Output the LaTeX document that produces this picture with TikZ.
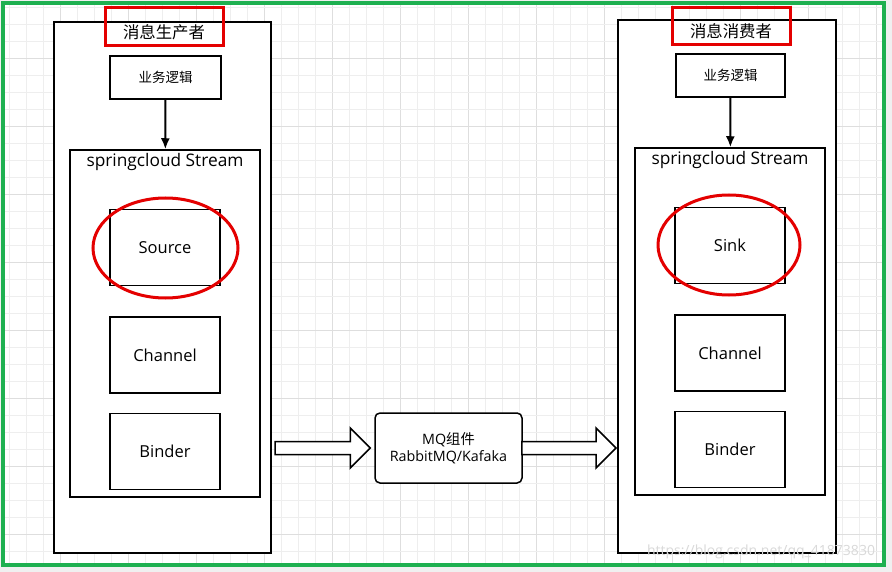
\documentclass[tikz,border=0pt]{standalone}
\usepackage{fontspec}
\setmainfont{Open Sans}
\newfontfamily\cjk{Noto Sans CJK SC}
\usetikzlibrary{positioning,calc,arrows.meta}
\definecolor{myred}{RGB}{228,0,0}
\definecolor{mygreen}{RGB}{30,176,80}
\definecolor{gridlight}{RGB}{238,238,238}
\definecolor{griddark}{RGB}{222,222,222}

\begin{document}
\begin{tikzpicture}[x=1pt, y=-1pt,
    outer/.style={draw, line width=2pt, fill=white, inner sep=0pt},
    block/.style={draw, line width=1.5pt, fill=white, minimum width=110, minimum height=76,
        inner sep=0pt, font=\fontsize{16.5}{19}\selectfont},
    ringmark/.style={draw=myred, line width=3pt},
    fatarrow/.style={draw, line width=1.5pt, fill=white, line join=miter}]
    % Page and grid
    \fill[gray!12] (0,0) rectangle (892,572);
    \fill[white] (3,3) rectangle (884,565);
    \foreach \k in {0,...,51} {
        \pgfmathtruncatemacro{\m}{mod(\k,4)}
        \ifnum\m=3 \def\gc{griddark}\else\def\gc{gridlight}\fi
        \draw[\gc, line width=0.8pt] ({9.3+17*\k},3) -- ({9.3+17*\k},565);
    }
    \foreach \k in {0,...,32} {
        \pgfmathtruncatemacro{\m}{mod(\k,4)}
        \ifnum\m=3 \def\gc{griddark}\else\def\gc{gridlight}\fi
        \draw[\gc, line width=0.8pt] (3,{7+17*\k}) -- (884,{7+17*\k});
    }
    \useasboundingbox (0,0) rectangle (892,572);

    % Producer side
    \node[outer, minimum width=217, minimum height=531] (prod) at (162.5, 287.5) {};
    \node[draw=myred, line width=3pt, minimum width=118, minimum height=38] (prodMark) at (164, 27) {};
    \node[font=\cjk\fontsize{16.4}{19}\selectfont] (prodTitle) at (164, 32) {消息生产者};
    \node[block, minimum width=111, minimum height=43, font=\cjk\fontsize{13.5}{16}\selectfont] (prodLogic) at (165.5, 77.5) {业务逻辑};
    \node[outer, line width=1.5pt, minimum width=190, minimum height=347] (prodStream) at (165, 323.5) {};
    \node[font=\fontsize{17.3}{20}\selectfont] at ($(prodStream.north) + (0, 13)$) {springcloud Stream};
    \node[block] (source) at (165, 247.5) {Source};
    \node[block, below=30pt of source] (prodChannel) {Channel};
    \node[block, below=19pt of prodChannel] (prodBinder) {Binder};
    \draw[-{Latex[length=11pt,width=9pt]}, line width=2pt] (prodLogic) -- (prodStream);
    \draw[ringmark] (165.5, 248) ellipse (72.5 and 50);

    % Consumer side
    \node[outer, minimum width=218, minimum height=533] (cons) at (727, 286.5) {};
    \node[draw=myred, line width=3pt, minimum width=118, minimum height=37] (consMark) at (731, 26.5) {};
    \node[font=\cjk\fontsize{16.4}{19}\selectfont] (consTitle) at (731, 31) {消息消费者};
    \node[block, minimum width=109, minimum height=43, font=\cjk\fontsize{13.5}{16}\selectfont] (consLogic) at (730.5, 75.5) {业务逻辑};
    \node[outer, line width=1.5pt, minimum width=190, minimum height=347] (consStream) at (730, 321.5) {};
    \node[font=\fontsize{17.3}{20}\selectfont] at ($(consStream.north) + (0, 13)$) {springcloud Stream};
    \node[block] (sink) at (730, 245.5) {Sink};
    \node[block, below=30pt of sink] (consChannel) {Channel};
    \node[block, below=19pt of consChannel] (consBinder) {Binder};
    \draw[-{Latex[length=11pt,width=9pt]}, line width=2pt] (consLogic) -- (consStream);
    \draw[ringmark] (729, 245) ellipse (71 and 50);

    % MQ in the middle
    \node[draw, line width=1.5pt, rounded corners=5pt, fill=white, minimum width=147, minimum height=70,
        align=center, font=\fontsize{14.3}{17}\selectfont] (mq) at (448.5, 448)
        {MQ{\cjk 组件}\\RabbitMQ/Kafaka};
    \coordinate (a1) at ($(prod.east |- mq.west) + (3, 0)$);
    \coordinate (b1) at ($(mq.west) + (-4, 0)$);
    \coordinate (a2) at ($(mq.east) + (-1, 0)$);
    \coordinate (b2) at ($(cons.west |- mq.east) + (-1, 0)$);
    \foreach \s/\e in {a1/b1, a2/b2}
        \draw[fatarrow] ($(\s) + (0, -6.5)$) -- ($(\e) + (-20, -6.5)$) -- ($(\e) + (-20, -20)$)
            -- (\e) -- ($(\e) + (-20, 20)$) -- ($(\e) + (-20, 6.5)$) -- ($(\s) + (0, 6.5)$) -- cycle;

    % Frame and watermark
    \draw[mygreen, line width=4pt] (3,3) rectangle (884,565);
    \node[text=gray!30, font=\fontsize{14}{16}\selectfont] (wmark) at (761, 552) {https://blog.csdn.net/qq\_41873830};
\end{tikzpicture}
\end{document}
